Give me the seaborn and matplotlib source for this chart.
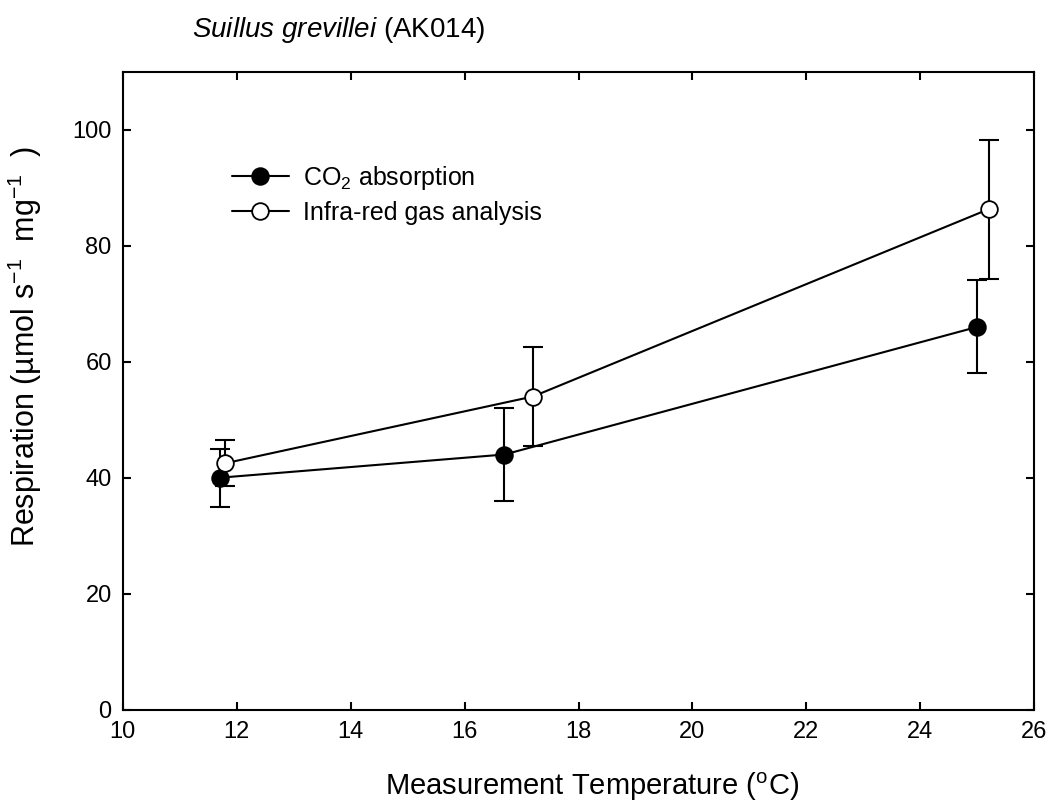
import matplotlib
matplotlib.use("Agg")
import matplotlib.pyplot as plt
import seaborn as sns
import pandas as pd

# Data
temp_co2 = [11.7, 16.7, 25.0]
resp_co2 = [40.0, 44.0, 66.0]
err_lo_co2 = [5.0, 8.0, 8.0]
err_hi_co2 = [5.0, 8.0, 8.0]

temp_irga = [11.8, 17.2, 25.2]
resp_irga = [42.5, 54.0, 86.3]
err_lo_irga = [4.0, 8.5, 12.0]
err_hi_irga = [4.0, 8.5, 12.0]

labels = [r"CO$_2$ absorption", "Infra-red gas analysis"]
xticks = [10, 12, 14, 16, 18, 20, 22, 24, 26]
yticks = [0, 20, 40, 60, 80, 100]

sns.set_style("ticks")
plt.rcParams['font.family'] = ['Liberation Sans', 'DejaVu Sans']
plt.rcParams['mathtext.fontset'] = 'custom'
plt.rcParams['mathtext.rm'] = 'Liberation Sans'
plt.rcParams['mathtext.it'] = 'Liberation Sans:italic'
plt.rcParams['mathtext.bf'] = 'Liberation Sans:bold'
plt.rcParams['text.color'] = 'black'
plt.rcParams['axes.labelcolor'] = 'black'
plt.rcParams['xtick.color'] = 'black'
plt.rcParams['ytick.color'] = 'black'
plt.rcParams['legend.labelcolor'] = 'black'

fig = plt.figure(figsize=(10.5, 8.1), dpi=100)
ax = fig.add_axes([0.117, 0.1238, 0.868, 0.7877])

df1 = pd.DataFrame({"t": temp_co2, "r": resp_co2})
df2 = pd.DataFrame({"t": temp_irga, "r": resp_irga})

ax.errorbar(temp_co2, resp_co2, yerr=[err_lo_co2, err_hi_co2], fmt='none',
            ecolor='black', elinewidth=1.5, capsize=7, capthick=1.5, zorder=2)
ax.errorbar(temp_irga, resp_irga, yerr=[err_lo_irga, err_hi_irga], fmt='none',
            ecolor='black', elinewidth=1.5, capsize=7, capthick=1.5, zorder=2)

sns.lineplot(data=df1, x="t", y="r", ax=ax, color='black', lw=1.5, marker='o',
             markersize=12, markerfacecolor='black', markeredgecolor='black',
             markeredgewidth=1.3, label=labels[0], zorder=3)
sns.lineplot(data=df2, x="t", y="r", ax=ax, color='black', lw=1.5, marker='o',
             markersize=12, markerfacecolor='white', markeredgecolor='black',
             markeredgewidth=1.3, label=labels[1], zorder=3)

ax.set_xlim(10, 26)
ax.set_ylim(0, 110)
ax.set_xticks(xticks)
ax.set_yticks(yticks)
ax.tick_params(direction='in', top=True, right=True, length=6, width=1.5,
               labelsize=17, pad=8, colors='black', labelcolor='black')
for s in ax.spines.values():
    s.set_linewidth(1.5)
    s.set_color('black')

ax.set_xlabel(r"Measurement Temperature ($^{\mathrm{o}}$C)", fontsize=21, color='black')
ax.xaxis.set_label_coords(0.515, -0.095)
ax.set_ylabel("Respiration (\u00b5mol s$^{-1}$  mg$^{-1}$  )", fontsize=22, color='black')
ax.yaxis.set_label_coords(-0.086, 0.569)

leg = ax.legend(loc='upper left', bbox_to_anchor=(0.1196, 0.856), frameon=False,
                fontsize=18, handlelength=2.28, handletextpad=0.56, labelspacing=0.38,
                borderpad=0, borderaxespad=0, labelcolor='black')

fig.text(0.183, 1 - 37 / 810, r"$\mathit{Suillus\ grevillei}$ (AK014)", fontsize=20,
         va='baseline', ha='left', color='black')

fig.savefig("out.png", dpi=100)
